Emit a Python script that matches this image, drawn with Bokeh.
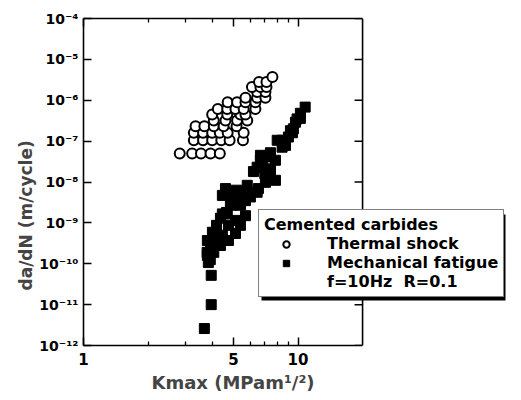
import math
from bokeh.plotting import figure
from bokeh.models import (LogAxis, FixedTicker, Legend, LegendItem, Range1d, Span,
                          Title, BoxAnnotation)
from bokeh.embed import file_html
from bokeh.resources import INLINE

# ---- data ----
thermal_k = [2.81, 3.21, 3.53, 3.91, 4.32,
             3.27, 3.61, 3.98, 4.39, 4.80, 5.54,
             3.27, 3.61, 3.98, 4.32, 4.70, 5.58,
             3.33, 3.66, 4.05, 4.50, 5.17,
             4.05, 4.59, 5.20, 5.80,
             3.98, 4.68, 5.39, 5.69,
             4.23, 4.68, 5.11, 5.58, 6.33,
             4.70, 5.20, 5.69, 6.33,
             5.69, 6.45, 7.05,
             6.45, 7.05,
             6.10, 6.68, 7.13,
             6.58, 7.13,
             7.60]
thermal_dadn = [5.0e-8, 5.0e-8, 5.0e-8, 5.0e-8, 5.0e-8,
                1.05e-7, 1.05e-7, 1.05e-7, 1.05e-7, 1.05e-7, 1.05e-7,
                1.6e-7, 1.6e-7, 1.6e-7, 1.6e-7, 1.6e-7, 1.6e-7,
                2.3e-7, 2.3e-7, 2.3e-7, 2.3e-7, 2.3e-7,
                3.2e-7, 3.2e-7, 3.2e-7, 3.2e-7,
                4.5e-7, 4.5e-7, 4.5e-7, 4.5e-7,
                6.1e-7, 6.1e-7, 6.1e-7, 6.1e-7, 6.1e-7,
                8.9e-7, 8.9e-7, 8.9e-7, 8.9e-7,
                1.15e-6, 1.15e-6, 1.15e-6,
                1.6e-6, 1.6e-6,
                2.1e-6, 2.1e-6, 2.1e-6,
                2.8e-6, 2.8e-6,
                3.7e-6]

mech_k = [3.66, 3.94, 3.94, 3.82, 3.90, 3.78, 3.77, 4.05, 3.91, 4.35,
          4.12, 4.74, 4.05, 4.44, 5.11, 4.74, 5.39, 5.11, 5.69, 4.44,
          4.68, 5.39, 4.84, 5.69, 6.00, 5.39, 4.44, 6.45, 5.11, 4.59,
          5.80, 7.85, 7.18, 7.44, 6.45, 7.44, 6.68, 8.43, 8.00, 9.02,
          9.52, 9.73, 10.26, 10.80, 6.68, 8.74, 9.22, 9.90, 7.00, 6.20,
          3.78, 3.99, 4.17, 4.35, 4.64, 4.94, 5.39, 4.84, 5.87, 6.54,
          7.05, 5.69, 7.44, 6.82, 7.85, 8.74, 9.42, 10.26, 7.44, 8.46]
mech_dadn = [2.6e-12, 1.0e-11, 5.2e-11, 1.07e-10, 1.26e-10, 1.6e-10, 1.9e-10, 1.9e-10, 2.5e-10, 2.8e-10,
             3.7e-10, 3.7e-10, 5.5e-10, 5.0e-10, 5.5e-10, 8.7e-10, 8.7e-10, 1.15e-9, 1.5e-9, 1.66e-9,
             1.66e-9, 2.7e-9, 2.95e-9, 3.5e-9, 4.3e-9, 4.3e-9, 4.7e-9, 5.6e-9, 6.3e-9, 6.9e-9,
             8.3e-9, 1.1e-8, 1.3e-8, 2.1e-8, 2.3e-8, 4.1e-8, 4.5e-8, 7.1e-8, 1.05e-7, 1.26e-7,
             2.0e-7, 2.9e-7, 4.8e-7, 6.8e-7, 3.4e-8, 8.0e-8, 1.8e-7, 3.5e-7, 1.6e-8, 1.8e-8,
             3.7e-10, 5.9e-10, 8.7e-10, 1.3e-9, 1.8e-9, 2.7e-9, 3.0e-9, 4.7e-9, 4.5e-9, 6.9e-9,
             9.8e-9, 6.3e-9, 1.7e-8, 2.5e-8, 3.4e-8, 7.9e-8, 1.6e-7, 3.6e-7, 5.2e-8, 1.05e-7]

x_min, x_max = 1, 20
y_min, y_max = 1e-12, 1e-4
x_ticks = [1, 5, 10]
x_minor_ticks = [2, 3, 4, 6, 7, 8, 9]
x_tick_labels = ["1", "5", "10"]
y_ticks = [1e-12, 1e-11, 1e-10, 1e-9, 1e-8, 1e-7, 1e-6, 1e-5, 1e-4]
y_tick_labels = ["10⁻¹²", "10⁻¹¹", "10⁻¹⁰", "10⁻⁹", "10⁻⁸", "10⁻⁷", "10⁻⁶", "10⁻⁵", "10⁻⁴"]
legend_title = "Cemented carbides"
legend_labels = ["Thermal shock", "Mechanical fatigue", "f=10Hz  R=0.1"]

FONT = "DejaVu Sans"

# The frame is wider than the drawn box so that the legend may stick out past x = 20.
p = figure(width=516, height=398, x_axis_type="log", y_axis_type="log",
           x_range=Range1d(1, 100), y_range=Range1d(y_min, y_max),
           output_backend="svg", toolbar_location=None,
           min_border_left=83, min_border_right=4, min_border_top=18, min_border_bottom=53)
p.grid.visible = False
p.outline_line_color = None
p.background_fill_color = "white"
p.border_fill_color = "white"

def style_axis(ax, ticks, minor, labels, size="15px"):
    ax.ticker = FixedTicker(ticks=ticks, minor_ticks=minor)
    ax.major_label_overrides = {t: l for t, l in zip(ticks, labels)}
    ax.axis_line_color = "black"
    ax.axis_line_width = 1.6
    ax.major_tick_line_width = 1.5
    ax.minor_tick_line_width = 1.3
    ax.major_tick_in = 8
    ax.major_tick_out = 0
    ax.minor_tick_in = 4
    ax.minor_tick_out = 0
    ax.major_label_text_font = FONT
    ax.major_label_text_font_style = "bold"
    ax.major_label_text_color = "black"
    ax.major_label_text_font_size = size

xa = p.xaxis[0]
ya = p.yaxis[0]
style_axis(xa, x_ticks, x_minor_ticks, x_tick_labels, "15px")
style_axis(ya, y_ticks, [], y_tick_labels, "14px")
xa.bounds = (x_min, x_max)
xa.major_label_standoff = 7
ya.major_label_standoff = 5

top = LogAxis()
style_axis(top, x_ticks, x_minor_ticks, ["", "", ""], "0px")
top.major_label_standoff = 0
top.bounds = (x_min, x_max)
p.add_layout(top, "above")

# right edge of the box at x = 20, with inward ticks
p.add_layout(Span(location=x_max, dimension="height", line_color="black", line_width=1.6))
p.ray(x=[x_max] * len(y_ticks), y=y_ticks, length=8, length_units="screen",
      angle=math.pi, line_color="black", line_width=1.5)

# axis titles
p.add_layout(Title(text="Kmax (MPam¹/²)", align="left", offset=68,
                   text_font=FONT, text_font_style="bold", text_font_size="18px",
                   standoff=4), "below")
p.add_layout(Title(text="da/dN (m/cycle)", align="left", offset=55,
                   text_font=FONT, text_font_style="bold", text_font_size="17px",
                   standoff=2), "left")

r_thermal = p.scatter(thermal_k, thermal_dadn, marker="circle", size=10,
                      fill_color="white", line_color="black", line_width=2)
r_mech = p.scatter(mech_k, mech_dadn, marker="square", size=10,
                   fill_color="black", line_color="black")
r_blank = p.scatter(x=[], y=[], marker="circle", fill_alpha=0, line_alpha=0)

# drop shadow of the legend box (screen units, relative to the frame's bottom-left)
p.add_layout(BoxAnnotation(left=178, right=422, bottom=45, top=131,
                           left_units="screen", right_units="screen",
                           bottom_units="screen", top_units="screen",
                           fill_color="black", fill_alpha=1, line_alpha=0))

lg = Legend(items=[LegendItem(label=legend_labels[0], renderers=[r_thermal]),
                   LegendItem(label=legend_labels[1], renderers=[r_mech]),
                   LegendItem(label=legend_labels[2], renderers=[r_blank])],
            location=(175, 48), title=legend_title, orientation="vertical")
lg.title_text_font = FONT
lg.title_text_font_style = "bold"
lg.title_text_font_size = "16px"
lg.title_standoff = 0
lg.label_text_font = FONT
lg.label_text_font_style = "bold"
lg.label_text_font_size = "16px"
lg.label_height = 16
lg.glyph_height = 16
lg.glyph_width = 44
lg.label_standoff = 19
lg.spacing = 0
lg.padding = 5
lg.margin = 0
lg.border_line_color = "black"
lg.border_line_width = 1.5
lg.background_fill_alpha = 1
lg.background_fill_color = "white"
lg.title_text_color = "black"
lg.label_text_color = "black"
p.add_layout(lg, "center")

open("out.html", "w").write(file_html(p, INLINE))
